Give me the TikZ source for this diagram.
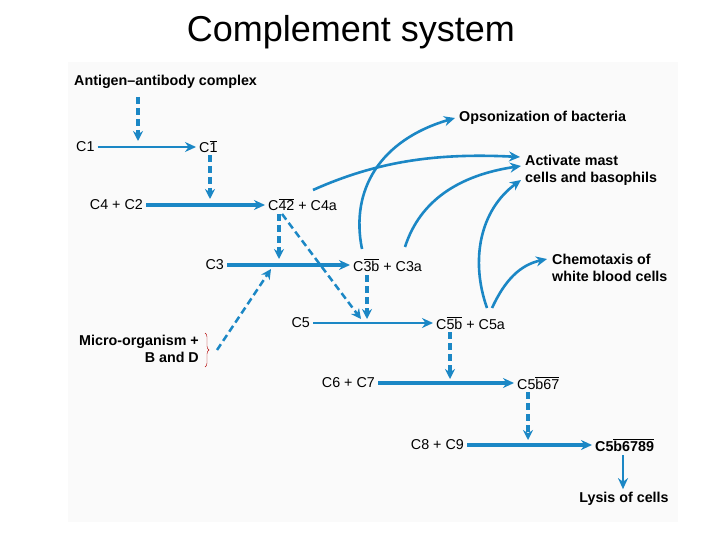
\documentclass[tikz,border=0pt]{standalone}
\usepackage{fontspec}
\setmainfont{Liberation Sans}
\usetikzlibrary{arrows.meta,decorations.pathreplacing}
\begin{document}
\begin{tikzpicture}[x=1pt,y=-1pt,
  lb/.style={font=\fontsize{14.3}{17}\selectfont, inner sep=3pt},
  bl/.style={font=\fontsize{14.3}{17}\selectfont\bfseries, inner sep=3pt},
  ar/.style={draw=myblue, line width=2pt, -{Stealth[length=11pt,width=10pt]}},
  thk/.style={ar, line width=3.5pt},
  dsh/.style={draw=myblue, line width=3.5pt, dash pattern=on 7pt off 4pt, -{Stealth[length=10pt,width=10pt]}},
  dshthin/.style={dsh, line width=2.5pt},
  crv/.style={ar, line width=2.6pt}]
\definecolor{myblue}{HTML}{1B87C5}
\useasboundingbox (0,0) rectangle (720,540);
\fill[white] (0,0) rectangle (720,540);
\fill[black!2] (68,62) rectangle (678,522);
\node[font=\fontsize{36}{40}\selectfont] (title) at (351,32) {Complement system};
\node[bl, anchor=west] (ag) at (71,82) {Antigen–antibody complex};
\node[lb, anchor=west] (c1) at (73,147) {C1};
\node[lb, anchor=west] (c1b) at (196,147) {C$\overline{\mbox{1}}$};
\node[lb, anchor=east] (c4c2) at (146,205) {C4 + C2};
\node[lb, anchor=west] (c42) at (265,205) {C$\overline{\mbox{42}}$ + C4a};
\node[lb, anchor=east] (c3) at (227,265) {C3};
\node[lb, anchor=west] (c3b) at (350,265) {C$\overline{\mbox{3b}}$ + C3a};
\node[bl, anchor=east, align=right] (mo) at (202,349) {Micro-organism +\\B and D};
\node[lb, anchor=east] (c5) at (313,323) {C5};
\node[lb, anchor=west] (c5b) at (433,323) {C$\overline{\mbox{5b}}$ + C5a};
\node[lb, anchor=east] (c67) at (378,383) {C6 + C7};
\node[lb, anchor=west] (c5b67) at (514,383) {C5$\overline{\mbox{b67}}$};
\node[lb, anchor=east] (c89) at (467,445) {C8 + C9};
\node[bl, anchor=west] (c5b6789) at (592,445) {C5$\overline{\mbox{b6789}}$};
\node[bl] (lysis) at (624,499) {Lysis of cells};
\node[bl, anchor=west] (ops) at (456,118) {Opsonization of bacteria};
\node[bl, anchor=west, align=left] (mast) at (522,170) {Activate mast\\cells and basophils};
\node[bl, anchor=west, align=left] (chem) at (549,268) {Chemotaxis of\\white blood cells};
% coordinates
\coordinate (a1) at (138,97); \coordinate (a2) at (138,141);
\coordinate (b1) at (210,155); \coordinate (b2) at (210,199);
\coordinate (d1) at (279,214); \coordinate (d2) at (279,259);
\coordinate (e1) at (282,214); \coordinate (e2) at (361,319);
\coordinate (f1) at (367,275); \coordinate (f2) at (367,319);
\coordinate (g1) at (217,350); \coordinate (g2) at (271,269);
\coordinate (h1) at (450,332); \coordinate (h2) at (450,379);
\coordinate (i1) at (528,392); \coordinate (i2) at (528,440);
\coordinate (l1) at (623,455);
\draw[ar] (c1) -- (c1b);
\draw[thk] (c4c2) -- (c42);
\draw[thk] (c3) -- (c3b);
\draw[ar, line width=2.6pt] (c5) -- (c5b);
\draw[thk] (c67) -- (c5b67);
\draw[thk] (c89) -- (c5b6789);
\draw[ar, line width=2.6pt] (l1) -- (l1 |- lysis.north);
\draw[dsh] (a1) -- (a2);
\draw[dsh] (b1) -- (b2);
\draw[dsh] (d1) -- (d2);
\draw[dshthin] (e1) -- (e2);
\draw[dsh] (f1) -- (f2);
\draw[dshthin] (g1) -- (g2);
\draw[dsh] (h1) -- (h2);
\draw[dsh] (i1) -- (i2);
\draw[decorate, decoration={brace, amplitude=4pt}, draw=red!70!black, thin] (205,333) -- (205,367);
% curves
\draw[crv] (313,190) .. controls (380,160) and (440,153) .. (520,157);
\draw[crv] (362,249) .. controls (350,190) and (380,140) .. (455,118);
\draw[crv] (405,247) .. controls (420,200) and (460,175) .. (521,166);
\draw[crv] (487,308) .. controls (470,260) and (480,210) .. (521,180);
\draw[crv] (492,308) .. controls (505,280) and (520,265) .. (547,259);
\end{tikzpicture}
\end{document}
